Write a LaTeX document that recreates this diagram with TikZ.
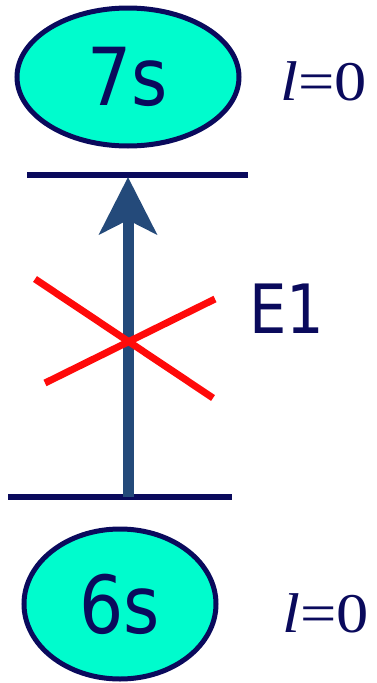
\documentclass[tikz,border=0pt]{standalone}
\usepackage{fontspec}
\setmainfont[FakeStretch=0.87]{DejaVu Sans}
\newfontfamily\serifnum[FakeStretch=1.15]{Liberation Serif}
\usetikzlibrary{shapes.geometric,arrows.meta}
\definecolor{navy}{RGB}{10,10,92}
\definecolor{aqua}{RGB}{0,252,205}
\definecolor{steel}{RGB}{36,74,122}
\definecolor{xred}{RGB}{255,10,10}
\tikzset{
  orbital/.style={ellipse, draw=navy, line width=5pt, fill=aqua, inner sep=0pt,
    text=navy, font=\fontsize{80}{80}\selectfont},
  lvalue/.style={text=navy, font=\serifnum\fontsize{56}{56}\selectfont, anchor=base west, inner sep=0pt},
  level/.style={draw=navy, line width=5.5pt},
  trans/.style={draw=steel, line width=11pt, -{Stealth[length=57pt, width=57pt, inset=14pt]}},
  forbid/.style={draw=xred, line width=7pt},
  tlabel/.style={text=navy, font=\fontsize{68}{68}\selectfont, anchor=base west, inner sep=0pt}
}
\begin{document}
\begin{tikzpicture}[x=1pt,y=-1pt]
\useasboundingbox (0,0) rectangle (376,683);
% orbitals
\node[orbital, minimum width=222pt, minimum height=138pt] (s7) at (128,77) {7s};
\node[orbital, minimum width=192pt, minimum height=150pt] (s6) at (120,604) {6s};
\node[lvalue] (l7) at (280,100) {\textit{l}=0};
\node[lvalue] (l6) at (282,632) {\textit{l}=0};
% levels
\coordinate (u1) at (27,175);
\coordinate (u2) at (248,175);
\coordinate (d1) at (8,497);
\coordinate (d2) at (232,497);
\draw[level] (u1) -- (u2);
\draw[level] (d1) -- (d2);
% transition
\coordinate (a0) at (128,497);
\coordinate (a1) at (128,177);
\draw[trans] (a0) -- (a1);
% cross
\coordinate (c1) at (35,279);
\coordinate (c2) at (213,398);
\coordinate (c3) at (45,383);
\coordinate (c4) at (215,299);
\draw[forbid] (c1) -- (c2);
\draw[forbid] (c3) -- (c4);
\node[tlabel] (e1) at (249,333) {E1};
\end{tikzpicture}
\end{document}
